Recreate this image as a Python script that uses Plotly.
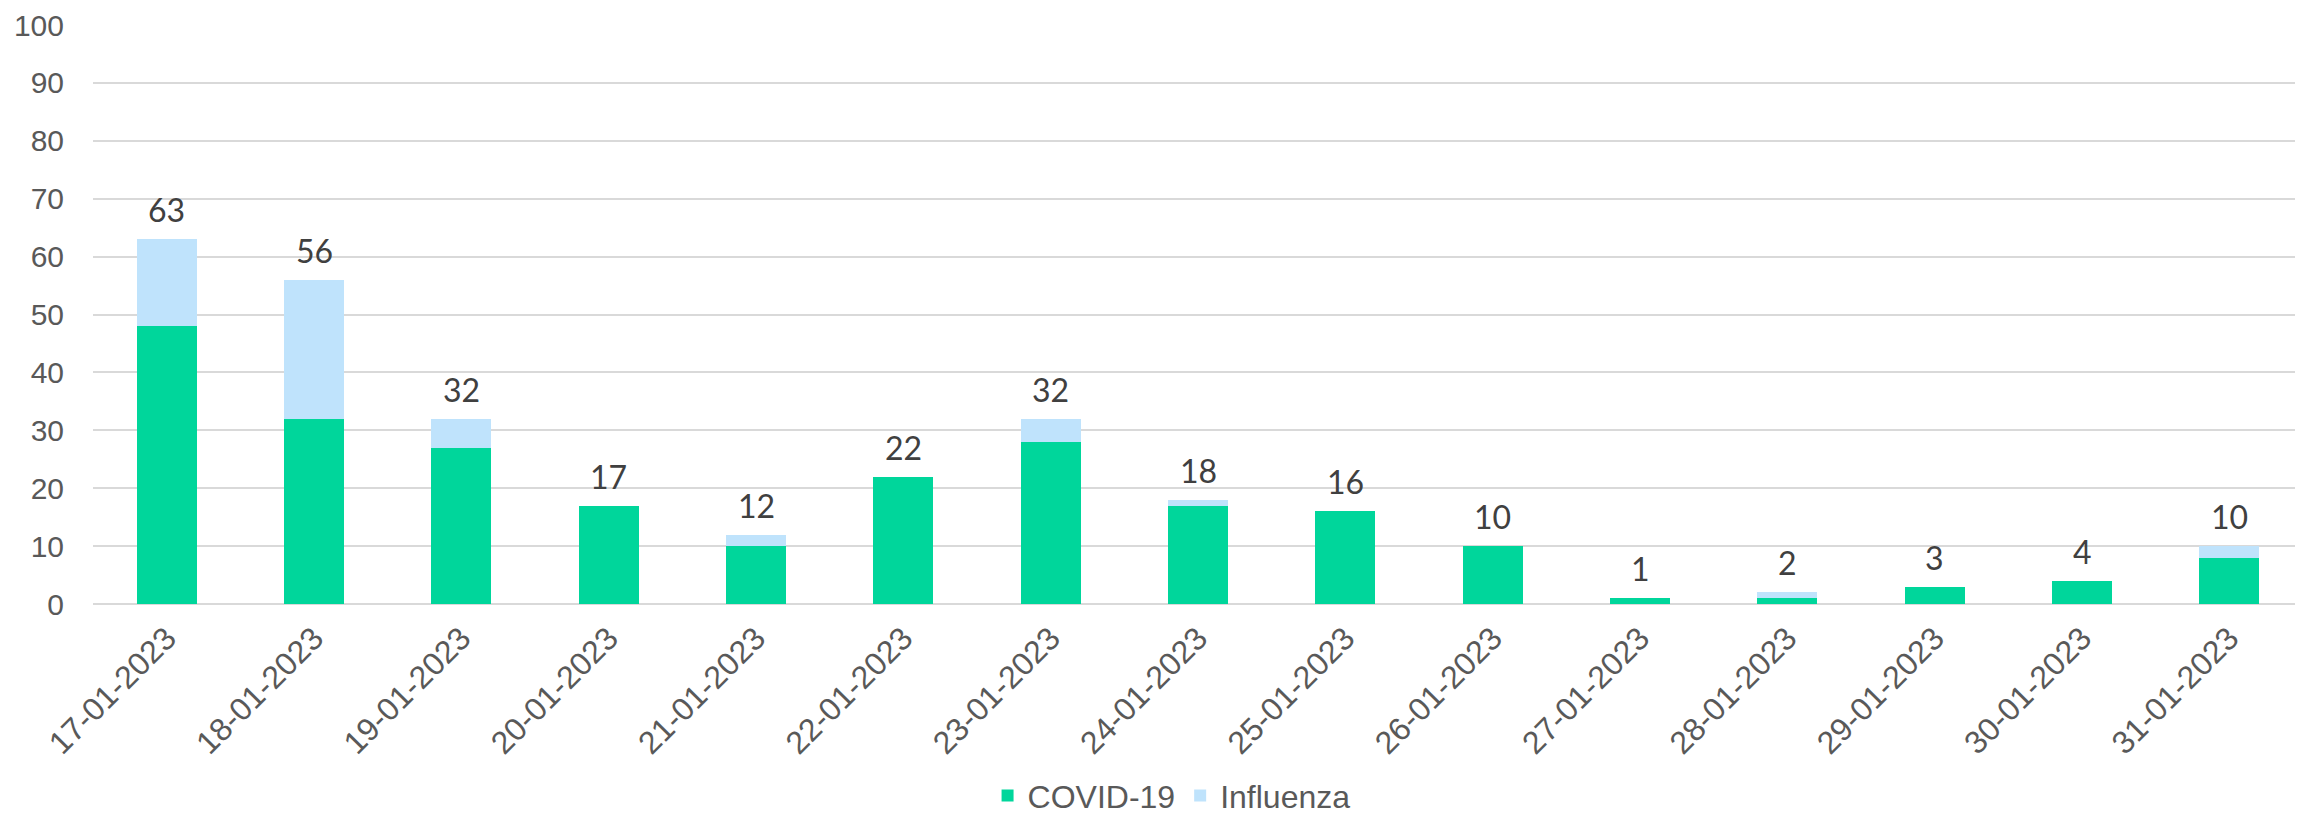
import plotly.graph_objects as go

dates = ["17-01-2023", "18-01-2023", "19-01-2023", "20-01-2023", "21-01-2023",
         "22-01-2023", "23-01-2023", "24-01-2023", "25-01-2023", "26-01-2023",
         "27-01-2023", "28-01-2023", "29-01-2023", "30-01-2023", "31-01-2023"]
covid = [48, 32, 27, 17, 10, 22, 28, 17, 16, 10, 1, 1, 3, 4, 8]
influenza = [15, 24, 5, 0, 2, 0, 4, 1, 0, 0, 0, 1, 0, 0, 2]
totals = [c + i for c, i in zip(covid, influenza)]
y_ticks = list(range(0, 101, 10))

GREEN = "#00D69B"
BLUE = "#BFE3FC"
TICK_COLOR = "#595959"
ARIAL = "Liberation Sans"

fig = go.Figure()
fig.add_trace(go.Bar(x=dates, y=covid, name="COVID-19", marker=dict(color=GREEN, line=dict(width=0))))
fig.add_trace(go.Bar(x=dates, y=influenza, name="Influenza", marker=dict(color=BLUE, line=dict(width=0))))

for d, t in zip(dates, totals):
    fig.add_annotation(x=d, y=t, text=str(t), showarrow=False, yanchor="bottom",
                       yshift=8, font=dict(family="Lato", size=32, color="#404040"))

fig.update_layout(
    width=2295, height=812,
    barmode="stack", bargap=0.593,
    plot_bgcolor="white", paper_bgcolor="white",
    margin=dict(l=85, r=0, t=17, b=216),
    font=dict(family=ARIAL, size=30, color=TICK_COLOR),
    legend=dict(orientation="h", xref="container", yref="container",
                x=0.507, xanchor="center", y=0.03, yanchor="middle",
                font=dict(family=ARIAL, size=32, color=TICK_COLOR), itemwidth=30,
                traceorder="normal"),
    showlegend=True,
)
fig.update_yaxes(range=[0, 100], tickvals=y_ticks, showgrid=True, gridcolor="#D9D9D9",
                 gridwidth=2, zeroline=True, zerolinecolor="#D9D9D9", zerolinewidth=2,
                 ticks="", ticklabelstandoff=28, tickfont=dict(family=ARIAL, size=30, color=TICK_COLOR))
fig.update_xaxes(tickangle=-45, ticks="", showline=False, ticklabelstandoff=8,
                 tickfont=dict(family=ARIAL, size=32, color=TICK_COLOR))

fig.write_html("out.html")
